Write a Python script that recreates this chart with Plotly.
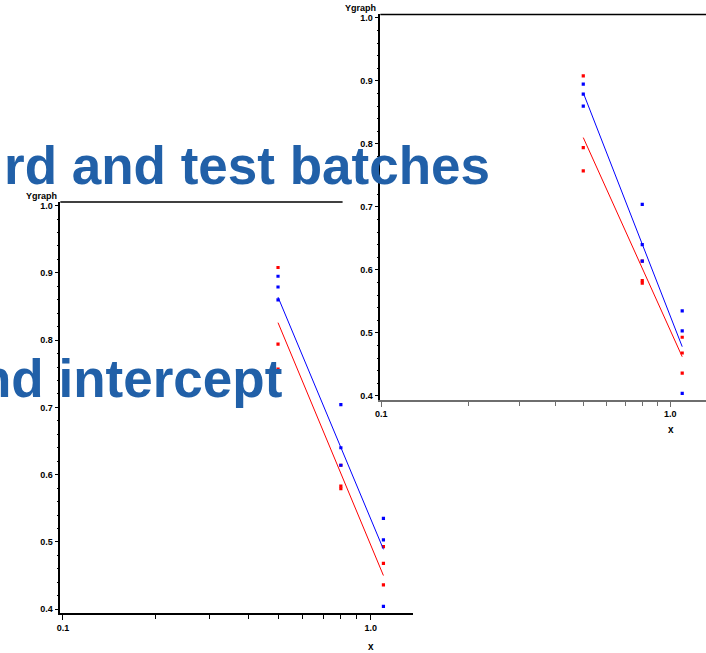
import plotly.graph_objects as go

W, H = 706, 653

# Observations: concentration levels and responses for the two batches
dose = [0.5, 0.5, 0.5, 0.8, 0.8, 0.8, 1.1, 1.1, 1.1]
y_standard = [0.895, 0.879, 0.860, 0.704, 0.640, 0.614, 0.535, 0.503, 0.404]
y_test = [0.908, 0.794, 0.757, 0.614, 0.583, 0.579, 0.493, 0.468, 0.436]

# Fitted lines (values at the lowest and highest dose)
fit_x = [0.5, 1.1]
fit_common_standard = [0.864, 0.489]
fit_common_test = [0.826, 0.450]
fit_sep_standard = [0.881, 0.478]
fit_sep_test = [0.810, 0.462]

x_major = [0.1, 1.0]
x_major_text = ["0.1", "1.0"]
x_minor = [0.2, 0.3, 0.4, 0.5, 0.6, 0.7, 0.8, 0.9]

title_top = "rd and test batches"
title_mid = "nd intercept"

BLUE = "#0000ff"
RED = "#ff0000"
TITLE = "rgb(33,96,168)"


def px(x):
    return x / W


def py(y):
    return 1 - y / H


fig = go.Figure()

panels = [
    ("x", "y", fit_common_standard, fit_common_test),
    ("x2", "y2", fit_sep_standard, fit_sep_test),
]
for xa, ya, f_std, f_tst in panels:
    fig.add_trace(go.Scatter(x=dose, y=y_test, mode="markers", xaxis=xa, yaxis=ya,
                             marker=dict(symbol="square", size=3.2, color=RED, line_width=0)))
    fig.add_trace(go.Scatter(x=dose, y=y_standard, mode="markers", xaxis=xa, yaxis=ya,
                             marker=dict(symbol="square", size=3.2, color=BLUE, line_width=0)))
    fig.add_trace(go.Scatter(x=fit_x, y=f_std, mode="lines", xaxis=xa, yaxis=ya,
                             line=dict(color=BLUE, width=1)))
    fig.add_trace(go.Scatter(x=fit_x, y=f_tst, mode="lines", xaxis=xa, yaxis=ya,
                             line=dict(color=RED, width=1)))

tickfont = dict(family="Liberation Sans", size=9, color="black", weight="bold")


def xaxis_style(domain, rng, color):
    return dict(domain=domain, type="log", range=rng, showgrid=False, zeroline=False,
                showline=True, linecolor=color, linewidth=1.5,
                ticks="outside", ticklen=5, tickwidth=1, tickcolor=color,
                tickvals=x_major, ticktext=x_major_text, tickfont=tickfont,
                minor=dict(tickvals=x_minor, ticks="outside", ticklen=4, tickcolor=color),
                fixedrange=True)


def yaxis_style(domain, rng, anchor):
    return dict(domain=domain, range=rng, anchor=anchor, showgrid=False, zeroline=False,
                showline=True, linecolor="black", linewidth=1.5,
                ticks="outside", ticklen=4, tickwidth=1, tickcolor="black",
                tick0=0.4, dtick=0.1, tickformat=".1f", tickfont=tickfont,
                minor=dict(dtick=0.02, tick0=0.4, ticks="outside", ticklen=2, tickcolor="black"),
                fixedrange=True)


left_x = [px(55.7), px(410.7)]
left_y = [py(614), py(201.7)]
right_x = [px(378), 1.0]
right_y = [py(400), py(13.5)]

fig.update_layout(
    width=W, height=H,
    margin=dict(l=0, r=0, t=0, b=0),
    paper_bgcolor="white", plot_bgcolor="rgba(0,0,0,0)",
    showlegend=False,
    xaxis=dict(xaxis_style(left_x, [-1.0084, 0.1368], "black"), anchor="y"),
    yaxis=yaxis_style(left_y, [0.3941, 1.0053], "x"),
    xaxis2=dict(xaxis_style(right_x, [-1.0034, 0.1237], "#6e6e6e"), anchor="y2"),
    yaxis2=yaxis_style(right_y, [0.3937, 1.0055], "x2"),
    shapes=[
        dict(type="line", xref="paper", yref="paper", x0=left_x[0], x1=px(340),
             y0=left_y[1], y1=left_y[1], line=dict(color="black", width=1.5)),
        dict(type="line", xref="paper", yref="paper", x0=right_x[0], x1=1.0,
             y0=right_y[1], y1=right_y[1], line=dict(color="black", width=1.5)),
    ],
)

small = dict(family="Liberation Sans", size=9, color="black", weight="bold")
big = dict(family="Liberation Sans", size=53, color=TITLE, weight="bold")
annotations = [
    dict(text="Ygraph", x=px(37), y=py(196), font=small),
    dict(text="Ygraph", x=px(358), y=py(7), font=small),
    dict(text="x", x=px(369), y=py(647), font=dict(small, size=10)),
    dict(text="x", x=px(671), y=py(430), font=dict(small, size=10)),
    dict(text=title_top, x=px(490), y=py(165), xanchor="right", font=big),
    dict(text=title_mid, x=px(281), y=py(379), xanchor="right", font=big),
]
for a in annotations:
    a.setdefault("xanchor", "center")
    fig.add_annotation(xref="paper", yref="paper", yanchor="middle", showarrow=False, **a)

fig.write_html("out.html")
